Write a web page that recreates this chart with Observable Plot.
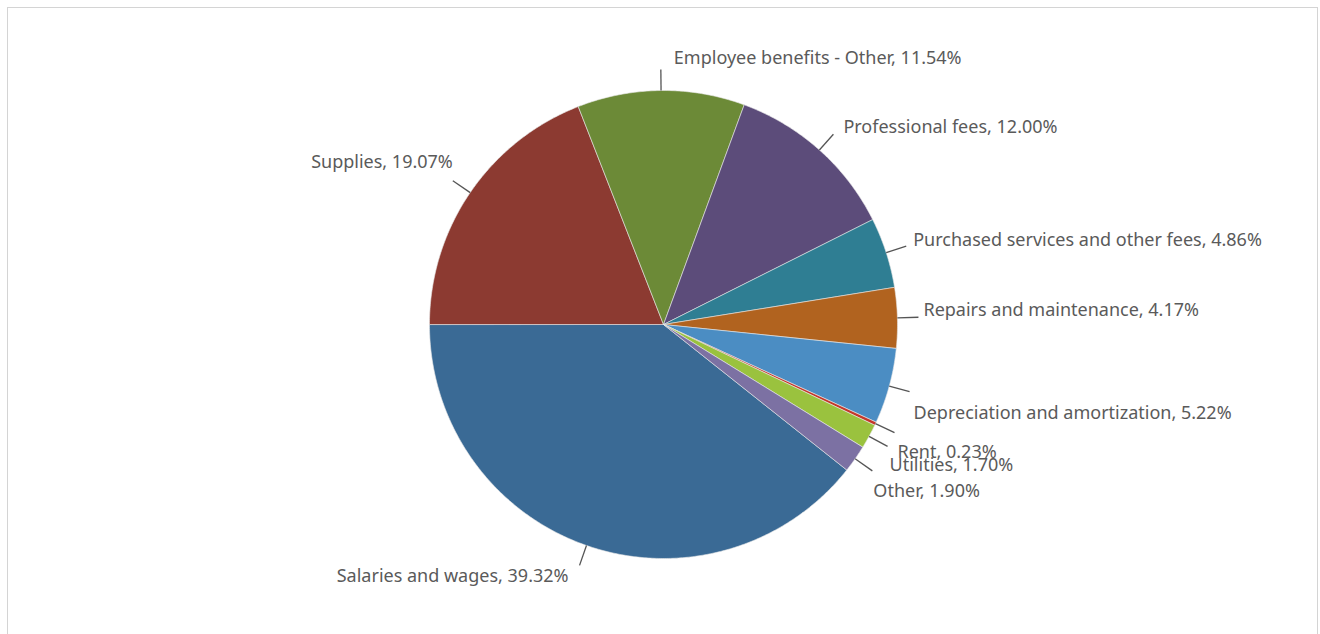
<!DOCTYPE html>
<html>
<head>
<meta charset="utf-8">
<script src="https://cdn.jsdelivr.net/npm/d3@7"></script>
<script src="https://cdn.jsdelivr.net/npm/@observablehq/plot@0.6"></script>
<style>
  html, body { margin: 0; padding: 0; background: #fff; }
  #chart { position: relative; width: 1320px; height: 634px; overflow: hidden; }
  #frame { position: absolute; left: 7px; top: 7px; width: 1311px; height: 640px; border: 1px solid #d4d4d4; box-sizing: border-box; pointer-events: none; }
</style>
</head>
<body>
<div id="chart"><div id="frame"></div></div>
<script>
// ---- data ----
const categories = [
  "Salaries and wages",
  "Supplies",
  "Employee benefits - Other",
  "Professional fees",
  "Purchased services and other fees",
  "Repairs and maintenance",
  "Depreciation and amortization",
  "Rent",
  "Utilities",
  "Other"
];
const shares = [39.32, 19.07, 11.54, 12.00, 4.86, 4.17, 5.22, 0.23, 1.70, 1.90];
const colors = ["#3a6a95", "#8c3a31", "#6c8a37", "#5c4c7a", "#2f7e93", "#b1631f", "#4b8dc3", "#c4372a", "#9ac23e", "#7c71a3"];

// ---- layout ----
const W = 1320, H = 634;
const cx = 663, cy = 324, R = 234;       // pixel centre and radius of the pie
const firstSliceAngle = 128.45;            // degrees clockwise from 12 o'clock
const leaderOut = 1.09;                    // leader end, in radii
// label nudges (px) relative to leader end, and anchor
const labelLayout = [
  {dx: -11, dy: 11, anchor: "end"},
  {dx: 0, dy: -18, anchor: "end"},
  {dx: 13, dy: -11, anchor: "start"},
  {dx: 10, dy: -7, anchor: "start"},
  {dx: 7, dy: -6, anchor: "start"},
  {dx: 5, dy: -7, anchor: "start"},
  {dx: 4, dy: 22, anchor: "start"},
  {dx: 3, dy: 20, anchor: "start"},
  {dx: 2, dy: 19, anchor: "start"},
  {dx: 1, dy: 20, anchor: "start"}
];

// data-space: unit radius, centre at origin
const xDomain = [-cx / R, (W - cx) / R];
const yDomain = [-(H - cy) / R, cy / R];

const total = d3.sum(shares);
const rad = d => d * Math.PI / 180;
const slices = [];
let a0 = firstSliceAngle;
categories.forEach((name, i) => {
  const sweep = shares[i] / total * 360;
  slices.push({name, value: shares[i], a0, a1: a0 + sweep, mid: a0 + sweep / 2, i});
  a0 += sweep;
});

const polyPts = [];
for (const s of slices) {
  polyPts.push({name: s.name, x: 0, y: 0});
  const n = Math.max(4, Math.ceil((s.a1 - s.a0) / 0.5));
  for (let k = 0; k <= n; k++) {
    const a = rad(s.a0 + (s.a1 - s.a0) * k / n);
    polyPts.push({name: s.name, x: Math.sin(a), y: Math.cos(a)});
  }
  polyPts.push({name: s.name, x: 0, y: 0});
}

const leaders = slices.map(s => {
  const a = rad(s.mid);
  return {name: s.name, x1: Math.sin(a), y1: Math.cos(a), x2: leaderOut * Math.sin(a), y2: leaderOut * Math.cos(a)};
});

const labels = slices.map((s, i) => ({
  ...leaders[i],
  text: `${s.name}, ${s.value.toFixed(2)}%`,
  ...labelLayout[i]
}));

const textMarks = labels.map(l => Plot.text([l], {
  x: "x2", y: "y2", text: "text",
  dx: l.dx, dy: l.dy, textAnchor: l.anchor,
  fill: "#5a5a5a", fontSize: 18, fontFamily: "Noto Sans"
}));

const plot = Plot.plot({
  width: W, height: H,
  margin: 0,
  x: {domain: xDomain, axis: null},
  y: {domain: yDomain, axis: null},
  color: {domain: categories, range: colors},
  style: {background: "transparent", fontFamily: "Noto Sans"},
  marks: [
    Plot.line(polyPts, {x: "x", y: "y", z: "name", fill: "name", stroke: "#e8e8e8", strokeWidth: 0.6, curve: "linear"}),
    Plot.link(leaders, {x1: "x1", y1: "y1", x2: "x2", y2: "y2", stroke: "#555", strokeWidth: 1.3}),
    ...textMarks
  ]
});
plot.style.position = "absolute";
plot.style.left = "0";
plot.style.top = "0";
document.getElementById("chart").appendChild(plot);
</script>
</body>
</html>
